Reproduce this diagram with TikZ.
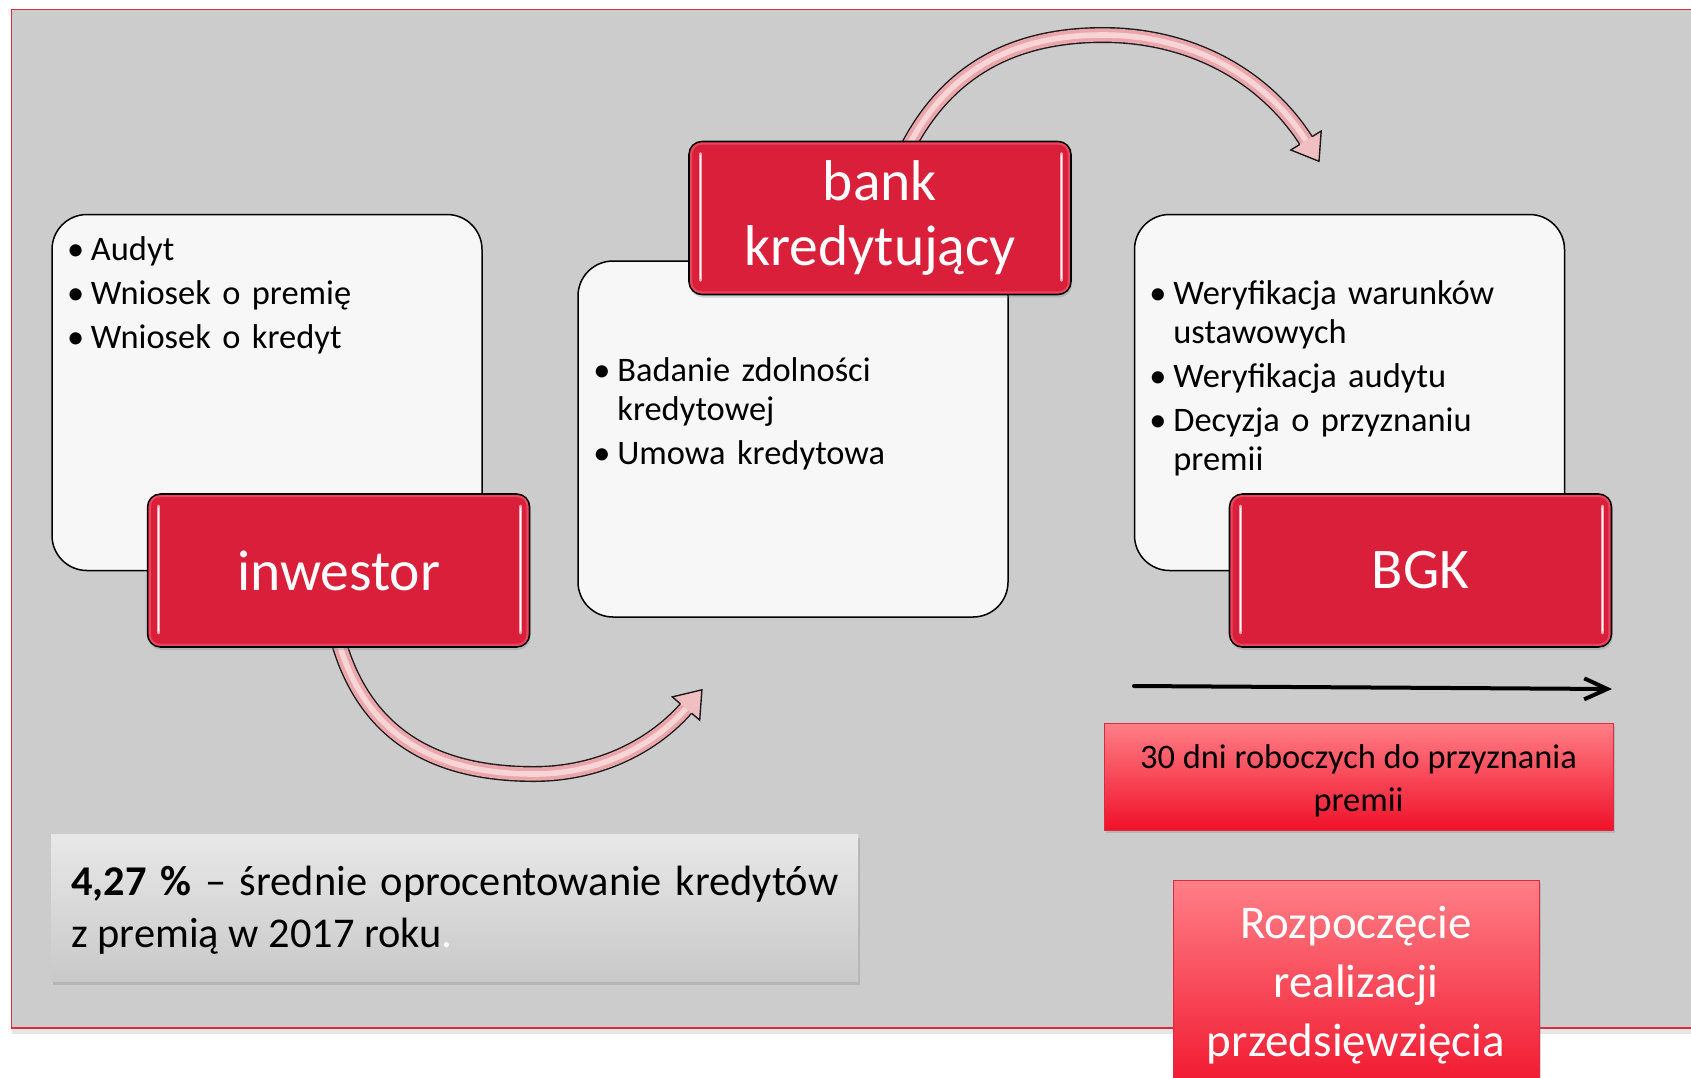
\documentclass[tikz,border=0pt]{standalone}
\usepackage{fontspec}
\setmainfont{Carlito}
\usetikzlibrary{arrows.meta,shadows,calc}

\definecolor{framegray}{HTML}{CCCCCC}
\definecolor{framered}{HTML}{DC2A40}
\definecolor{paper}{HTML}{F7F7F7}
\definecolor{crimson}{HTML}{DA1F3A}
\definecolor{rim}{HTML}{E4475E}
\definecolor{gloss}{HTML}{F6A9B4}
\definecolor{pinktop}{HTML}{FF7F87}
\definecolor{redbottom}{HTML}{F0112A}
\definecolor{arrowedge}{HTML}{1A1A1A}
\definecolor{arrowpink}{HTML}{EAA6AA}
\definecolor{arrowlight}{HTML}{F7D4D6}
\definecolor{headpink}{HTML}{F1BEC1}
\definecolor{notetop}{HTML}{E8E8E8}
\definecolor{notebottom}{HTML}{C9C9C9}

\newcommand{\listfont}{\fontsize{17.2pt}{19.5pt}\selectfont\setlength{\parskip}{2.5pt}}
\newcommand{\actorfont}{\fontsize{28.75pt}{32.5pt}\selectfont}
\newcommand{\notefont}{\fontsize{17.2pt}{21.5pt}\selectfont}
\newcommand{\ratefont}{\fontsize{21.2pt}{26pt}\selectfont}
\newcommand{\startfont}{\fontsize{23.5pt}{29.5pt}\selectfont}
\newcommand{\pkt}[1]{\par\noindent\hangindent=12pt\hangafter=1\strut\makebox[12pt][l]{\textbullet}#1\par}

\pgfdeclarelayer{back}
\pgfdeclarelayer{mid}
\pgfsetlayers{back,mid,main}

\tikzset{
  wbox/.style={draw=black, line width=0.75pt, fill=paper, rounded corners=17.5pt,
    minimum width=215pt, minimum height=178pt, inner sep=0pt},
  blist/.style={text width=205pt, align=left, inner sep=0pt, font=\listfont},
  rbox/.style={draw=black, line width=0.8pt, fill=crimson, rounded corners=6.5pt,
    minimum width=191pt, minimum height=76.5pt, text=white, font=\actorfont,
    drop shadow={shadow xshift=0.5pt, shadow yshift=-1.5pt, opacity=0.3}},
  notebox/.style={draw=framered, line width=0.5pt, top color=pinktop, bottom color=redbottom,
    minimum width=254.5pt, minimum height=53.5pt,
    drop shadow={shadow xshift=1pt, shadow yshift=-1.5pt, opacity=0.3}},
  graynote/.style={top color=notetop, bottom color=notebottom, minimum width=403.5pt,
    minimum height=73.5pt, drop shadow={shadow xshift=1pt, shadow yshift=-2pt, opacity=0.3}}
}

\begin{document}
\begin{tikzpicture}[x=0.5pt,y=-0.5pt]
    \useasboundingbox (0,0) rectangle (1691,1077);

    \begin{pgfonlayer}{back}
    % frame
    \draw[framered, line width=0.7pt, fill=framegray,
      drop shadow={shadow xshift=0pt, shadow yshift=-3pt, opacity=0.2}] (11.5,9.5) rectangle (1720,1028);
    \node[wbox] (inwbox) at (267,392.5) {};
    \node[wbox] (bankbox) at (793,439) {};
    \node[wbox] (bgkbox) at (1349.5,392.5) {};
    \end{pgfonlayer}

    \node[blist, anchor=north west] (inwlist) at (66.6,215.7)
      {\pkt{Audyt}\pkt{Wniosek o premię}\pkt{Wniosek o kredyt}};
    \node[blist, anchor=north west] (banklist) at (593,336.7)
      {\pkt{Badanie zdolności\newline kredytowej}\pkt{Umowa kredytowa}};
    \node[blist, anchor=north west] (bgklist) at (1149,259.7)
      {\pkt{Weryfikacja warunków\newline ustawowych}\pkt{Weryfikacja audytu}\pkt{Decyzja o przyznaniu\newline premii}};

    % actors
    \node[rbox] (inw) at (338.6,570.5) {inwestor};
    \node[rbox, align=center] (bank) at (880,218) {bank\\kredytujący};
    \node[rbox] (bgk) at (1420.5,570.5) {BGK};
    \foreach \bx in {inw,bank,bgk}
    {
    \draw[rim, line width=1pt, rounded corners=5pt] ($(\bx.north west)+(3,3)$) rectangle ($(\bx.south east)+(-3,-3)$);
    \draw[gloss, line width=1.6pt, line cap=round] ($(\bx.north west)+(12,13)$) -- ($(\bx.south west)+(12,-15)$);
    \draw[gloss, line width=1.6pt, line cap=round] ($(\bx.north east)+(-10,13)$) -- ($(\bx.south east)+(-10,-15)$);
    \draw[white, line width=0.5pt, line cap=round] ($(\bx.north west)+(12,15)$) -- ($(\bx.south west)+(12,-17)$);
    \draw[white, line width=0.5pt, line cap=round] ($(\bx.north east)+(-10,15)$) -- ($(\bx.south east)+(-10,-17)$);
    }

    % curved arrows
    \coordinate (a1low) at (534,774);
    \coordinate (a1base) at (686,708.5);
    \coordinate (a2top) at (1103,35);
    \coordinate (a2base) at (1306,140.5);
    \begin{pgfonlayer}{mid}
    \foreach \w/\c in {8/arrowedge,6.6/arrowpink,2.8/arrowlight}
    {
    \draw[line width=\w pt, \c, shorten >=-1.5pt] ([yshift=3pt]inw.south) .. controls (370,750) and (455,774) .. (a1low) .. controls (600,774) and (655,745) .. (a1base);
    \draw[line width=\w pt, \c, shorten >=-1.5pt] ($(bank.north)+(27,8)$) .. controls (950,65) and (1020,35) .. (a2top) .. controls (1190,35) and (1265,75) .. (a2base);
    }
    \fill[headpink] (680.4,703.8) -- (672.3,696.9) -- (701.9,689.8) -- (699.7,720.1) -- (691.6,713.2) -- cycle;
    \draw[arrowedge, line width=0.7pt, line join=miter] (680.4,703.8) -- (672.3,696.9) -- (701.9,689.8) -- (699.7,720.1) -- (691.6,713.2);
    \fill[headpink] (1299.8,144.4) -- (1290.8,150.0) -- (1319.0,161.3) -- (1321.2,131.0) -- (1312.2,136.6) -- cycle;
    \draw[arrowedge, line width=0.7pt, line join=miter] (1299.8,144.4) -- (1290.8,150.0) -- (1319.0,161.3) -- (1321.2,131.0) -- (1312.2,136.6);
    \end{pgfonlayer}

    % time line
    \coordinate (daysL) at (1134,686);
    \coordinate (daysR) at (1612,689);
    \draw[line width=2pt, line cap=round, -{Straight Barb[length=11.5pt,width=10.5pt]}] (daysL) -- (daysR);
    \node[notebox] (dni) at (1358.5,776.5) {};
    \node[align=center, inner sep=0pt, font=\notefont] (dnitxt) at (1358.5,780.5) {30 dni roboczych do przyznania\\premii};

    \node[notebox, minimum width=183pt, minimum height=110pt] (realbox) at (1356,990) {};
    \node[text width=180pt, align=center, anchor=north, inner sep=0pt, text=white, font=\startfont] (realtxt) at (1356,897)
      {\strut Rozpoczęcie\\realizacji\\przedsięwzięcia};

    % average rate
    \node[graynote] (rate) at (454.5,907.5) {};
    \node[text width=383.5pt, align=justify, anchor=north west, inner sep=0pt, font=\ratefont] (ratetxt) at (71,858.6)
      {\strut\textbf{4,27 \%} – średnie oprocentowanie kredytów\linebreak z premią w 2017 roku{\color{white}.}};
\end{tikzpicture}
\end{document}
